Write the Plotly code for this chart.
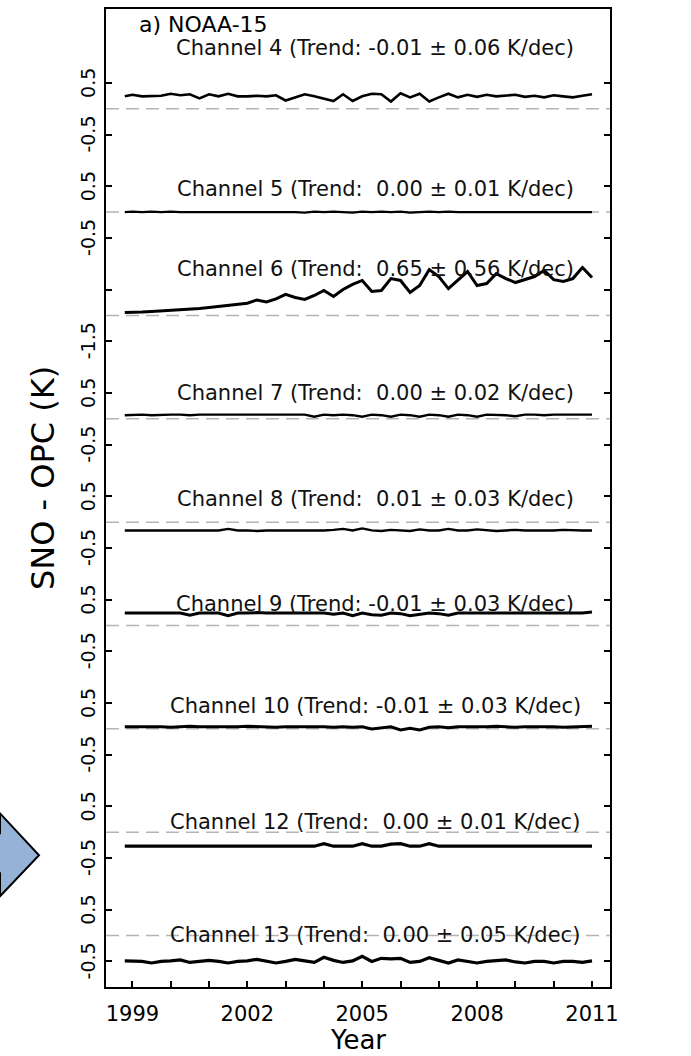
import plotly.graph_objects as go

# ---------------- data ----------------
years = [1998.8, 1999.0, 1999.25, 1999.5, 1999.75, 2000.0, 2000.25, 2000.5, 2000.75,
         2001.0, 2001.25, 2001.5, 2001.75, 2002.0, 2002.25, 2002.5, 2002.75,
         2003.0, 2003.25, 2003.5, 2003.75, 2004.0, 2004.25, 2004.5, 2004.75,
         2005.0, 2005.25, 2005.5, 2005.75, 2006.0, 2006.25, 2006.5, 2006.75,
         2007.0, 2007.25, 2007.5, 2007.75, 2008.0, 2008.25, 2008.5, 2008.75,
         2009.0, 2009.25, 2009.5, 2009.75, 2010.0, 2010.25, 2010.5, 2010.75, 2011.0]

channels = ["4", "5", "6", "7", "8", "9", "10", "12", "13"]
trends = ["-0.01 \u00b1 0.06", " 0.00 \u00b1 0.01", " 0.65 \u00b1 0.56", " 0.00 \u00b1 0.02",
          " 0.01 \u00b1 0.03", "-0.01 \u00b1 0.03", "-0.01 \u00b1 0.03", " 0.00 \u00b1 0.01",
          " 0.00 \u00b1 0.05"]

ch4 = [0.24, 0.27, 0.24, 0.24, 0.25, 0.29, 0.26, 0.28, 0.20, 0.28, 0.24, 0.29, 0.24, 0.24,
       0.25, 0.24, 0.26, 0.16, 0.22, 0.28, 0.24, 0.19, 0.15, 0.28, 0.15, 0.24, 0.29, 0.28,
       0.14, 0.30, 0.22, 0.29, 0.14, 0.22, 0.29, 0.22, 0.27, 0.23, 0.27, 0.24, 0.25, 0.27,
       0.23, 0.25, 0.22, 0.26, 0.24, 0.22, 0.25, 0.28]
ch5 = [0.00, 0.01, 0.00, 0.01, 0.00, 0.01, 0.00, 0.00, 0.01, 0.00, 0.01, 0.00, 0.00, 0.01,
       0.00, 0.01, 0.00, 0.01, 0.00, -0.01, 0.01, 0.00, 0.01, 0.00, -0.01, 0.01, 0.00, 0.01,
       0.00, 0.01, -0.01, 0.00, 0.01, 0.00, 0.01, 0.00, 0.00, 0.01, 0.00, 0.01, 0.00, 0.00,
       0.01, 0.00, 0.00, 0.01, 0.00, 0.00, 0.01, 0.00]
ch6 = [0.17, 0.17, 0.20, 0.23, 0.26, 0.31, 0.34, 0.36, 0.41, 0.46, 0.52, 0.58, 0.64, 0.71,
       0.90, 0.78, 0.96, 1.22, 1.04, 0.93, 1.16, 1.45, 1.10, 1.51, 1.80, 2.03, 1.39, 1.45,
       2.14, 2.03, 1.33, 1.74, 2.66, 2.26, 1.56, 2.08, 2.55, 1.74, 1.85, 2.43, 2.14, 1.91,
       2.08, 2.26, 2.61, 2.08, 1.97, 2.14, 2.78, 2.20]
ch7 = [0.07, 0.08, 0.08, 0.07, 0.08, 0.08, 0.08, 0.07, 0.08, 0.08, 0.08, 0.07, 0.08, 0.08,
       0.08, 0.07, 0.08, 0.08, 0.07, 0.08, 0.04, 0.08, 0.07, 0.08, 0.07, 0.04, 0.08, 0.07,
       0.04, 0.08, 0.07, 0.04, 0.08, 0.07, 0.04, 0.08, 0.07, 0.04, 0.08, 0.08, 0.07, 0.05,
       0.08, 0.08, 0.07, 0.08, 0.08, 0.07, 0.08, 0.08]
ch8 = [-0.16, -0.16, -0.17, -0.16, -0.16, -0.17, -0.16, -0.16, -0.16, -0.17, -0.16, -0.13,
       -0.16, -0.16, -0.17, -0.16, -0.16, -0.16, -0.17, -0.16, -0.16, -0.16, -0.15, -0.13,
       -0.16, -0.12, -0.16, -0.17, -0.15, -0.16, -0.17, -0.14, -0.16, -0.16, -0.13, -0.16,
       -0.16, -0.14, -0.16, -0.17, -0.16, -0.15, -0.16, -0.16, -0.17, -0.16, -0.15, -0.16,
       -0.16, -0.16]
ch9 = [0.24, 0.24, 0.25, 0.24, 0.24, 0.24, 0.24, 0.20, 0.24, 0.24, 0.24, 0.19, 0.24, 0.24,
       0.25, 0.24, 0.24, 0.24, 0.23, 0.24, 0.24, 0.24, 0.22, 0.24, 0.19, 0.24, 0.21, 0.20,
       0.24, 0.23, 0.19, 0.21, 0.24, 0.23, 0.20, 0.24, 0.24, 0.23, 0.24, 0.24, 0.23, 0.24,
       0.24, 0.23, 0.24, 0.24, 0.24, 0.23, 0.24, 0.26]
ch10 = [0.04, 0.04, 0.05, 0.04, 0.04, 0.03, 0.04, 0.05, 0.04, 0.04, 0.04, 0.03, 0.04, 0.05,
        0.04, 0.04, 0.03, 0.04, 0.04, 0.05, 0.04, 0.04, 0.03, 0.04, 0.03, 0.04, 0.00, 0.02,
        0.04, -0.02, 0.01, -0.02, 0.03, 0.04, 0.02, 0.04, 0.04, 0.03, 0.04, 0.05, 0.04, 0.03,
        0.04, 0.04, 0.05, 0.04, 0.03, 0.04, 0.04, 0.05]
ch12 = [-0.27, -0.27, -0.27, -0.27, -0.27, -0.27, -0.27, -0.27, -0.27, -0.27, -0.27, -0.27,
        -0.27, -0.27, -0.27, -0.27, -0.27, -0.27, -0.27, -0.27, -0.27, -0.22, -0.27, -0.27,
        -0.27, -0.22, -0.27, -0.27, -0.23, -0.22, -0.27, -0.27, -0.22, -0.27, -0.27, -0.27,
        -0.27, -0.27, -0.27, -0.27, -0.27, -0.27, -0.27, -0.27, -0.27, -0.27, -0.27, -0.27,
        -0.27, -0.27]
ch13 = [-0.49, -0.49, -0.50, -0.53, -0.50, -0.49, -0.47, -0.52, -0.50, -0.48, -0.50, -0.53,
        -0.50, -0.49, -0.46, -0.50, -0.53, -0.50, -0.46, -0.49, -0.52, -0.42, -0.48, -0.52,
        -0.49, -0.40, -0.50, -0.44, -0.45, -0.44, -0.52, -0.50, -0.43, -0.48, -0.53, -0.47,
        -0.50, -0.53, -0.50, -0.49, -0.47, -0.51, -0.53, -0.50, -0.50, -0.53, -0.50, -0.50,
        -0.52, -0.49]

year_ticks = [1999, 2000, 2001, 2002, 2003, 2004, 2005, 2006, 2007, 2008, 2009, 2010, 2011]
year_labels = ["1999", "", "", "2002", "", "", "2005", "", "", "2008", "", "", "2011"]

# ---------------- layout / style ----------------
series = [ch4, ch5, ch6, ch7, ch8, ch9, ch10, ch12, ch13]
offsets = [16, 14, 12, 10, 8, 6, 4, 2, 0]          # stacking offsets (display units)
scales = [1, 1, 1 / 3, 1, 1, 1, 1, 1, 1]           # display scale (ch6 compressed)
widths = [2.6, 2.4, 3.0, 2.4, 2.4, 3.0, 3.0, 3.2, 3.2]
label_y = [17.18, 14.45, 12.90, 10.50, 8.45, 6.42, 4.45, 2.19, 0.01]

W, H = 691, 1056
L, R, T, B = 106, 610, 7, 987
FONT = "DejaVu Sans"


def px_x(p):
    return (p - L) / (R - L)


def px_y(p):
    return (B - p) / (B - T)


fig = go.Figure()

for s, o, k, w in zip(series, offsets, scales, widths):
    fig.add_trace(go.Scatter(
        x=years, y=[o + v * k for v in s], mode="lines",
        line=dict(color="black", width=w), showlegend=False, hoverinfo="skip"))

# zero reference lines
for o in offsets:
    fig.add_shape(type="line", xref="paper", yref="y", x0=0, x1=1, y0=o, y1=o,
                  line=dict(color="#b4b4b4", width=1.5, dash="13px,7px"), layer="below")

# channel labels
for ch, tr, ly in zip(channels, trends, label_y):
    fig.add_annotation(x=px_x(375), xref="paper", y=ly, yref="y",
                       text=f"Channel {ch} (Trend: {tr} K/dec)".replace("  ", "\u00a0\u00a0"),
                       showarrow=False, xanchor="center", yanchor="middle",
                       font=dict(family=FONT, size=21, color="#111111"))

# y tick values and their (rotated) labels
tickvals, ticktext = [], []
for ch, o in zip(channels, offsets):
    tickvals += [o + 0.5, o - 0.5]
    ticktext += (["", "-1.5"] if ch == "6" else ["0.5", "-0.5"])
for tv, tt in zip(tickvals, ticktext):
    if tt:
        fig.add_annotation(x=px_x(88), xref="paper", y=tv, yref="y", text=tt,
                           showarrow=False, textangle=-90, xanchor="center", yanchor="middle",
                           font=dict(family=FONT, size=19, color="black"))

fig.add_annotation(x=px_x(137), y=px_y(23), xref="paper", yref="paper", text="a) NOAA-15",
                   showarrow=False, xanchor="left", yanchor="middle",
                   font=dict(family=FONT, size=22, color="black"))
fig.add_annotation(x=px_x(43), y=px_y(477), xref="paper", yref="paper", text="SNO - OPC (K)",
                   showarrow=False, textangle=-90, xanchor="center", yanchor="middle",
                   font=dict(family=FONT, size=32, color="black"))
fig.add_annotation(x=px_x(358), y=px_y(1040), xref="paper", yref="paper", text="Year",
                   showarrow=False, xanchor="center", yanchor="middle",
                   font=dict(family=FONT, size=26, color="black"))

# decorative arrow on the left
pts = [(-6, 833), (0, 833), (0, 813), (39, 855), (0, 896), (0, 873), (-6, 873)]
path = "M " + " L ".join(f"{px_x(a):.5f},{px_y(b):.5f}" for a, b in pts) + " Z"
fig.add_shape(type="path", xref="paper", yref="paper", path=path,
              fillcolor="#95b3d7", line=dict(color="black", width=2), layer="above")

fig.update_xaxes(range=[1998.31, 2011.47], tickvals=year_ticks, ticktext=year_labels,
                 ticks="inside", ticklen=6, tickwidth=1.5, tickcolor="black",
                 showline=True, linecolor="black", linewidth=2, mirror=True,
                 showgrid=False, zeroline=False,
                 tickfont=dict(family=FONT, size=21, color="black"), ticklabelstandoff=7)
fig.update_yaxes(range=[-0.995, 17.93], tickvals=tickvals, showticklabels=False,
                 ticks="inside", ticklen=6, tickwidth=1.5, tickcolor="black",
                 showline=True, linecolor="black", linewidth=2, mirror="ticks",
                 showgrid=False, zeroline=False)

fig.update_layout(width=W, height=H, margin=dict(l=L, r=W - R, t=T, b=H - B),
                  plot_bgcolor="white", paper_bgcolor="white", showlegend=False)

fig.write_html("out.html")
